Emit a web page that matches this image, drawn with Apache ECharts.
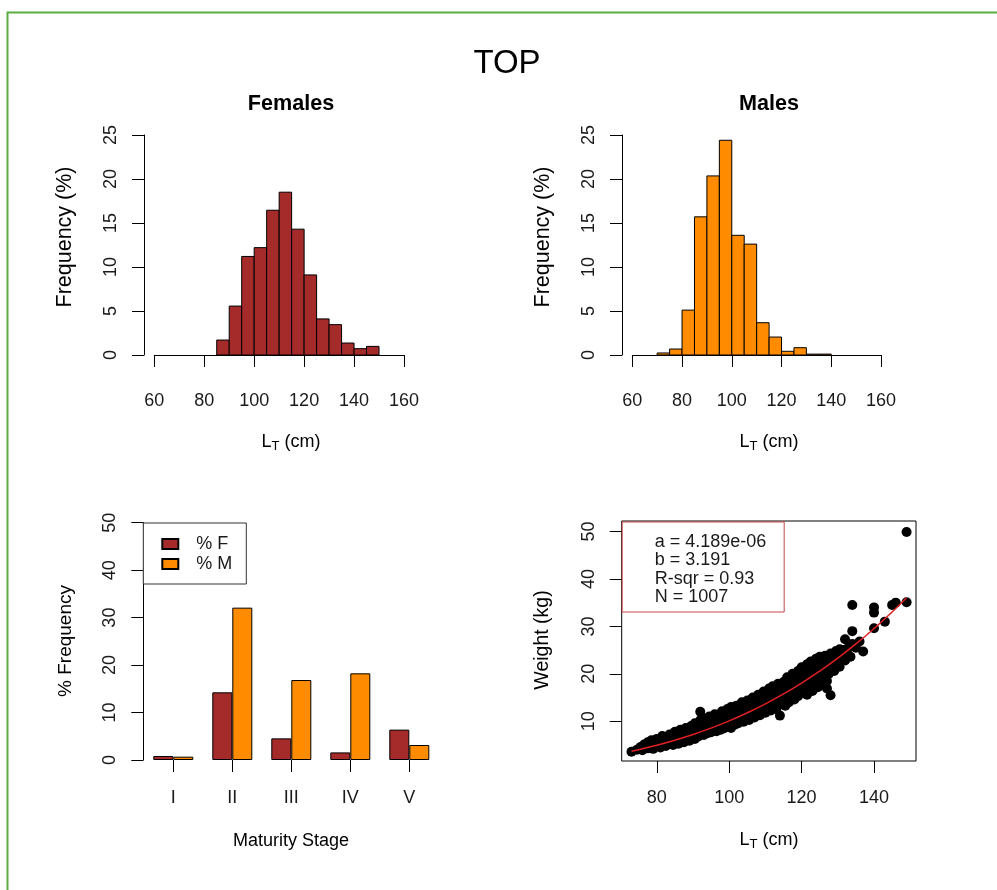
<!DOCTYPE html>
<html><head><meta charset="utf-8">
<script src="https://cdn.jsdelivr.net/npm/echarts@6/dist/echarts.min.js"></script>
<style>html,body{margin:0;padding:0;background:#fff}#c{width:997px;height:890px}</style>
</head><body><div id="c"></div>
<script>
// ---------- data ----------
const binWidth = 5;
const femaleBinStarts = [85, 90, 95, 100, 105, 110, 115, 120, 125, 130, 135, 140, 145];
const femaleFreq = [1.7, 5.56, 11.2, 12.2, 16.45, 18.5, 14.3, 9.1, 4.1, 3.45, 1.36, 0.72, 0.98];
const maleBinStarts = [70, 75, 80, 85, 90, 95, 100, 105, 110, 115, 120, 125, 130, 135];
const maleFreq = [0.23, 0.68, 5.1, 15.7, 20.35, 24.4, 13.6, 12.6, 3.67, 2.04, 0.42, 0.83, 0.1, 0.1];
const histXTicks = [60, 80, 100, 120, 140, 160];
const freqTicks = [0, 5, 10, 15, 20, 25];

const stages = ['I', 'II', 'III', 'IV', 'V'];
const stageF = [0.84, 14.26, 4.56, 1.6, 6.4];
const stageM = [0.7, 32.1, 16.85, 18.26, 3.16];

const lwXTicks = [80, 100, 120, 140];
const lwYTicks = [10, 20, 30, 40, 50];
const scatterPoints = [
  [73,3.6],[74.5,4.0],[75.5,4.6],[76,3.9],[76.5,5.1],[77.5,4.3],[77.5,5.6],[78,4.8],[78.5,6.0],[79,4.2],
  [79.5,5.2],[80,4.7],[80,6.3],[80.5,5.5],[81,4.5],[81.5,5.9],[81.5,6.9],[82,5.1],[82.5,4.8],[82.5,6.4],
  [83,5.6],[83.5,7.2],[83.5,5.2],[84,6.1],[84.5,6.8],[84.5,5.0],[85,5.7],[85,7.8],[85.5,6.4],[86,5.3],
  [86,7.1],[86.5,6.0],[86.5,8.2],[87,6.6],[87.5,5.6],[87.5,7.6],[88,6.2],[88,8.6],[88.5,7.0],[89,5.9],
  [89,7.9],[89.5,6.6],[89.5,9.0],[90,7.4],[90,8.4],[90.5,6.3],[90.5,9.6],[91,7.0],[91,8.0],[91.5,8.8],
  [91.5,6.8],[92,7.6],[92,10.2],[92,12.0],[92.5,8.4],[92.5,9.3],[93,7.1],[93,9.9],[93.5,8.0],[93.5,10.6],
  [94,7.5],[94,9.0],[94.5,8.6],[94.5,11.0],[95,9.6],[95,7.7],[95.5,10.2],[95.5,8.3],[96,9.1],[96,11.5],
  [96.5,7.9],[96.5,10.6],[97,8.8],[97,9.8],[97.5,11.2],[97.5,8.2],[98,10.3],[98,12.1],[98.5,9.2],[98.5,8.5],
  [99,11.0],[99,10.0],[99.5,12.6],[99.5,8.8],[100,9.5],[100,10.7],[100,11.8],[100.5,8.6],[100.5,13.0],[101,10.2],
  [101,11.4],[101.5,9.3],[101.5,12.3],[102,10.8],[102,13.3],[102.5,9.6],[102.5,11.9],[103,10.4],[103,12.7],[103.5,11.3],
  [103.5,14.0],[104,9.9],[104,12.1],[104.5,13.2],[104.5,10.8],[105,11.7],[105,14.4],[105.5,12.6],[105.5,10.3],[106,11.2],
  [106,13.6],[106.5,12.1],[106.5,15.0],[107,10.8],[107,13.0],[107.5,14.2],[107.5,11.8],[108,12.6],[108,15.6],[108.5,11.3],
  [108.5,13.8],[109,12.2],[109,14.8],[109.5,13.3],[109.5,16.3],[110,11.8],[110,14.3],[110.5,15.4],[110.5,12.8],[111,13.8],
  [111,16.9],[111.5,12.3],[111.5,15.0],[112,14.4],[112,17.4],[112.5,13.2],[112.5,16.2],[113,12.6],[113,15.5],[113.5,14.1],
  [113.5,17.9],[114,11.2],[114,16.7],[114.5,13.6],[114.5,15.2],[115,18.3],[115,14.6],[115.5,16.4],[115.5,13.3],[116,17.5],
  [116,19.3],[116.5,15.3],[116.5,14.0],[117,16.8],[117,18.6],[117.5,20.0],[117.5,15.8],[118,14.6],[118,17.8],[118.5,19.2],
  [118.5,16.4],[119,20.6],[119,15.3],[119.5,18.2],[119.5,17.0],[120,19.6],[120,21.4],[120.5,16.0],[120.5,18.8],[121,20.3],
  [121,17.4],[121.5,22.0],[121.5,15.6],[122,19.4],[122,21.2],[122.5,17.9],[122.5,22.6],[123,16.4],[123,20.3],[123.5,21.8],
  [123.5,18.6],[124,23.2],[124,19.8],[124.5,17.2],[124.5,21.0],[125,22.5],[125,23.6],[125.5,19.3],[125.5,20.6],[126,18.0],
  [126,22.0],[126.5,23.8],[126.5,21.4],[127,16.9],[127,18.5],[127.5,22.8],[127.5,20.0],[128,24.3],[128,15.5],[128.5,21.6],
  [129,23.4],[129,20.6],[129.5,24.8],[130,22.4],[130.5,25.2],[130.5,21.5],[131,23.8],[131.5,25.0],[132,27.3],[132,22.8],
  [132.5,24.6],[133,25.6],[133.5,23.6],[134,26.3],[134,29.0],[134,34.5],[135,25.5],[136,26.8],[137,24.7],[140,29.6],
  [140,32.9],[140,34.0],[143,31.0],[145,34.5],[146,35.0],[149,35.1],[149,49.9]
];
const curveL = [73, 75, 80, 85, 90, 95, 100, 105, 110, 115, 120, 125, 130, 135, 140, 145, 149];
const curveW = [3.70, 4.03, 4.95, 6.01, 7.21, 8.57, 10.09, 11.80, 13.68, 15.77, 18.06, 20.58, 23.32, 26.30, 29.54, 33.04, 36.04];
const fitLines = ['a = 4.189e-06', 'b = 3.191', 'R-sqr = 0.93', 'N = 1007'];

// ---------- styling ----------
const FONT = '"Liberation Sans", Arial, Helvetica, sans-serif';
const TXT = '#1a1a1a';
const BROWN = '#a52a2a';
const ORANGE = '#ff8c00';

function histData(starts, freq) {
  return starts.map((s, i) => [s, s + binWidth, freq[i]]);
}
function histItem(params, api) {
  const p0 = api.coord([api.value(0), 0]);
  const p1 = api.coord([api.value(1), api.value(2)]);
  return {
    type: 'rect',
    shape: { x: p0[0], y: p1[1], width: p1[0] - p0[0], height: p0[1] - p1[1] },
    style: { fill: api.visual('color'), stroke: '#000', lineWidth: 1 }
  };
}
const axisLineStyle = { color: '#000', width: 1 };
const labelStyle = { color: TXT, fontSize: 18, fontFamily: FONT };

function histX(gi, offset) {
  return {
    type: 'value', gridIndex: gi, min: 60, max: 160, interval: 20, offset: offset,
    axisLine: { show: true, lineStyle: axisLineStyle },
    axisTick: { show: true, length: 12, lineStyle: axisLineStyle },
    axisLabel: Object.assign({ margin: 28, customValues: histXTicks }, labelStyle),
    splitLine: { show: false }
  };
}
function histY(gi, offset) {
  return {
    type: 'value', gridIndex: gi, min: 0, max: 25, interval: 5, offset: offset,
    axisLine: { show: true, lineStyle: axisLineStyle },
    axisTick: { show: true, length: 12, lineStyle: axisLineStyle },
    axisLabel: Object.assign({ margin: 24, rotate: 90, customValues: freqTicks }, labelStyle),
    splitLine: { show: false }
  };
}

function txt(x, y, text, size, opts) {
  opts = opts || {};
  return {
    type: 'text', x: x, y: y, rotation: opts.rot || 0, z: 10,
    style: Object.assign({
      text: text, fontSize: size, fontFamily: FONT, fill: '#000',
      fontWeight: opts.bold ? 'bold' : 'normal', align: 'center', verticalAlign: 'middle'
    }, opts.rich ? { rich: opts.rich } : {})
  };
}
const subRich = {
  s: { fontSize: 13, fontFamily: FONT, fill: '#000', padding: [9, 0, 0, 0] }
};

const chart = echarts.init(document.getElementById('c'), null, { renderer: 'canvas' });
chart.setOption({
  animation: false,
  backgroundColor: '#fff',
  textStyle: { fontFamily: FONT },
  grid: [
    { left: 154.3, top: 135, width: 249.7, height: 220 },
    { left: 632.3, top: 135, width: 248.7, height: 220 },
    { left: 143.8, top: 522.7, width: 295, height: 237.3 },
    { left: 621.7, top: 521, width: 294.3, height: 240, show: true, borderColor: '#000', borderWidth: 1, backgroundColor: 'transparent' }
  ],
  xAxis: [
    histX(0, 9),
    histX(1, 9),
    {
      type: 'category', gridIndex: 2, data: stages,
      axisLine: { show: false },
      axisTick: { show: true, alignWithLabel: true, length: 12, lineStyle: axisLineStyle },
      axisLabel: Object.assign({ margin: 29 }, labelStyle)
    },
    {
      type: 'value', gridIndex: 3, min: 70.3, max: 151.6,
      axisLine: { show: false },
      axisTick: { show: true, length: 12, customValues: lwXTicks, lineStyle: axisLineStyle },
      axisLabel: Object.assign({ margin: 28, customValues: lwXTicks }, labelStyle),
      splitLine: { show: false }
    }
  ],
  yAxis: [
    histY(0, 10.3),
    histY(1, 10.3),
    {
      type: 'value', gridIndex: 2, min: 0, max: 50, interval: 10, offset: 0.5,
      axisLine: { show: true, lineStyle: axisLineStyle },
      axisTick: { show: true, length: 12, lineStyle: axisLineStyle },
      axisLabel: Object.assign({ margin: 24, rotate: 90 }, labelStyle),
      splitLine: { show: false }
    },
    {
      type: 'value', gridIndex: 3, min: 1.64, max: 52.2,
      axisLine: { show: false },
      axisTick: { show: true, length: 12, customValues: lwYTicks, lineStyle: axisLineStyle },
      axisLabel: Object.assign({ margin: 24, rotate: 90, customValues: lwYTicks }, labelStyle),
      splitLine: { show: false }
    }
  ],
  legend: {
    data: ['% F', '% M'], orient: 'vertical', left: 143.3, top: 523,
    padding: [11, 14, 10, 18], itemWidth: 16, itemHeight: 10, itemGap: 0,
    icon: 'rect', borderColor: '#333', borderWidth: 1, backgroundColor: '#fff',
    textStyle: { fontSize: 18, fontFamily: FONT, color: TXT, lineHeight: 20, padding: [0, 0, 0, 13] },
    selectedMode: false
  },
  title: [{
    text: fitLines.join('\n'), left: 621.7, top: 521.5,
    padding: [11, 18, 6, 33], borderColor: '#c84848', borderWidth: 1, backgroundColor: '#fff',
    textStyle: { fontSize: 18, fontWeight: 'normal', fontFamily: FONT, color: TXT, lineHeight: 18.5 }
  }],
  series: [
    { type: 'custom', xAxisIndex: 0, yAxisIndex: 0, renderItem: histItem, data: histData(femaleBinStarts, femaleFreq),
      encode: { x: [0, 1], y: 2 }, itemStyle: { color: BROWN } },
    { type: 'custom', xAxisIndex: 1, yAxisIndex: 1, renderItem: histItem, data: histData(maleBinStarts, maleFreq),
      encode: { x: [0, 1], y: 2 }, itemStyle: { color: ORANGE } },
    { name: '% F', type: 'bar', xAxisIndex: 2, yAxisIndex: 2, data: stageF, barWidth: 20, barGap: '0%',
      itemStyle: { color: BROWN, borderColor: '#000', borderWidth: 1 } },
    { name: '% M', type: 'bar', xAxisIndex: 2, yAxisIndex: 2, data: stageM, barWidth: 20, barGap: '0%',
      itemStyle: { color: ORANGE, borderColor: '#000', borderWidth: 1 } },
    { type: 'scatter', xAxisIndex: 3, yAxisIndex: 3, data: scatterPoints, symbolSize: 10,
      itemStyle: { color: '#000', opacity: 1 } },
    { type: 'line', xAxisIndex: 3, yAxisIndex: 3, data: curveL.map((l, i) => [l, curveW[i]]),
      smooth: true, symbol: 'none', lineStyle: { color: '#e02020', width: 1.5 }, z: 5 }
  ],
  graphic: [
    { type: 'rect', shape: { x: 7.5, y: 12.5, width: 1200, height: 1200 }, style: { fill: 'none', stroke: '#5aab41', lineWidth: 2 }, z: 20 },
    txt(507, 64, 'TOP', 33),
    txt(291, 104, 'Females', 21.6, { bold: true }),
    txt(769, 104, 'Males', 21.6, { bold: true }),
    txt(65, 237, 'Frequency (%)', 21.5, { rot: Math.PI / 2 }),
    txt(543, 237, 'Frequency (%)', 21.5, { rot: Math.PI / 2 }),
    txt(291, 442, 'L{s|T} (cm)', 18, { rich: subRich }),
    txt(769, 442, 'L{s|T} (cm)', 18, { rich: subRich }),
    txt(66, 641, '% Frequency', 19, { rot: Math.PI / 2 }),
    txt(291, 841, 'Maturity Stage', 18),
    txt(543, 640, 'Weight (kg)', 19.5, { rot: Math.PI / 2 }),
    txt(769, 840, 'L{s|T} (cm)', 18, { rich: subRich })
  ]
});
</script>
</body></html>
